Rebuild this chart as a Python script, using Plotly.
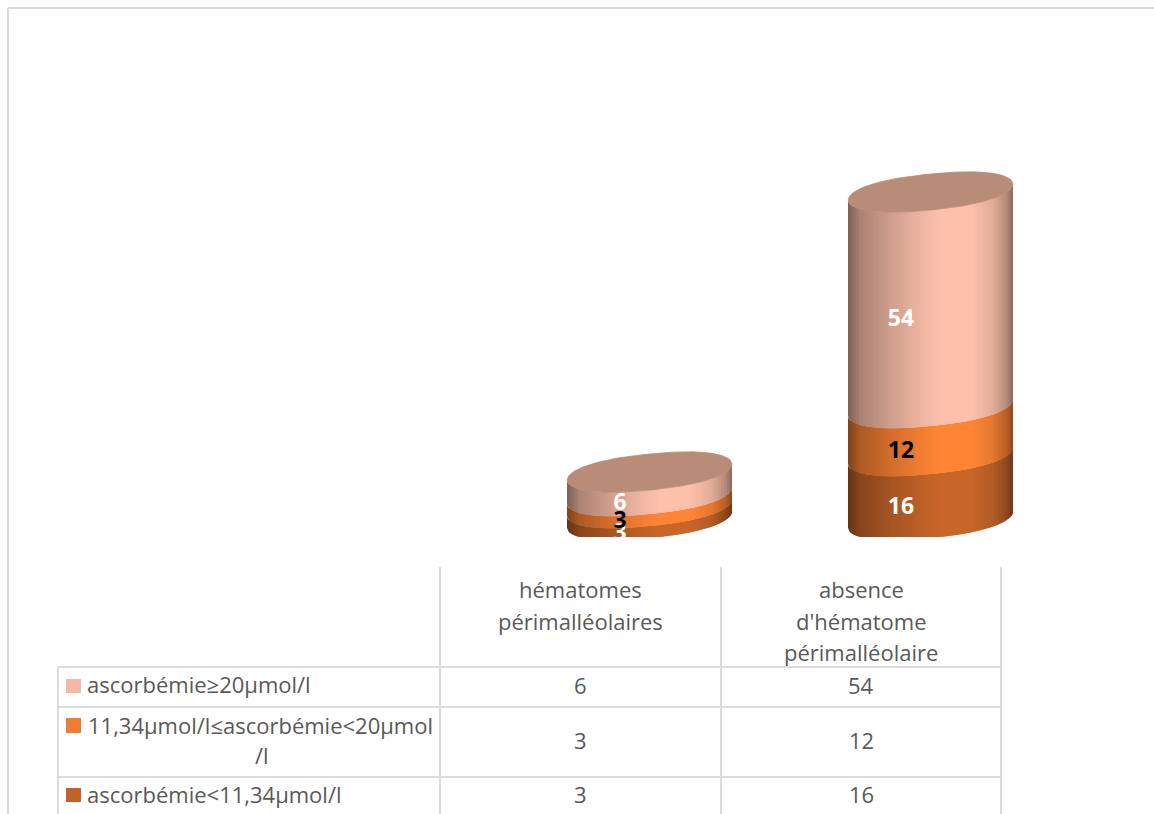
import plotly.graph_objects as go

categories_hdr = [["hématomes", "périmalléolaires"], ["absence", "d'hématome", "périmalléolaire"]]
series_names = ["ascorbémie<11,34µmol/l", "11,34µmol/l≤ascorbémie<20µmol/l", "ascorbémie≥20µmol/l"]
low_values = [3, 16]
mid_values = [3, 12]
high_values = [6, 54]

series = [low_values, mid_values, high_values]
base_rgb = [(200, 102, 42), (255, 133, 53), (252, 192, 171)]
label_colors = ["white", "black", "white"]
key_colors = ["#C0622A", "#ED7D31", "#F4B8A6"]
cap_color = "#B98C78"
grid = "#DCDCDC"
txt = "#595959"
FONT = "Open Sans"

# Plot-area placement (pixels) and axis scale
L, R, T, B = 509, 1071, 120, 560
W, H = 1154, 814
XMIN, XMAX, YMIN, YMAX = -0.5, 1.5, -10, 100
sx = (R - L) / (XMAX - XMIN)
sy = (B - T) / (YMAX - YMIN)
RX = 82.5 / sx        # half-width of cylinder, data units
RY = 18 / sy          # ellipse half-height
TILT = 8 / sy         # left side lower, right side higher
FLOOR = -17 / sy      # lowest visible edge of the base
N = 60


def shade(u):
    pts = [(-1, .50), (-.85, .68), (-.5, .82), (-.1, .95), (.1, 1.0), (.5, 1.0),
           (.75, .90), (.92, .72), (1, .55)]
    for (a, va), (b, vb) in zip(pts, pts[1:]):
        if a <= u <= b:
            return va + (vb - va) * (u - a) / (b - a)
    return 1


def bulge(u):
    return RY * max(0.0, 1 - abs(u) ** 2.4) ** .5


def front(u):
    return TILT * u - bulge(u)


def back(u):
    return TILT * u + bulge(u)


def ucurve(k):
    return -1 + 2 * k / N


fig = go.Figure()

for i in range(2):
    bottom = 0
    for s, vals in enumerate(series):
        top = bottom + vals[i]
        for k in range(N):
            # each strip runs on under the next one, so that no seam shows between them
            u0 = ucurve(k)
            u1 = ucurve(min(k + 2, N))
            us = [u0 + (u1 - u0) * j / 6 for j in range(7)]
            xs = [i + RX * u for u in us] + [i + RX * u for u in reversed(us)]
            ys = [max(bottom + front(u), FLOOR) for u in us] + [top + front(u) for u in reversed(us)]
            m = shade((ucurve(k) + ucurve(k + 1)) / 2)
            r, g, b = (int(c * m) for c in base_rgb[s])
            col = f"rgb({r},{g},{b})"
            fig.add_trace(go.Scatter(x=xs, y=ys, mode="lines", fill="toself", fillcolor=col,
                                     line=dict(width=0), hoverinfo="skip", showlegend=False))
        bottom = top
    # top cap
    pts = [k / 90 * 2 - 1 for k in range(91)]
    cx = [i + RX * u for u in pts] + [i + RX * u for u in reversed(pts)]
    cy = [bottom + front(u) for u in pts] + [bottom + back(u) for u in reversed(pts)]
    fig.add_trace(go.Scatter(x=cx, y=cy, mode="lines", fill="toself", fillcolor=cap_color,
                             line=dict(color=cap_color, width=0.8), hoverinfo="skip", showlegend=False))

# Data labels
for i in range(2):
    bottom = 0
    for s, vals in enumerate(series):
        fig.add_trace(go.Scatter(x=[i - 29.5 / sx], y=[bottom + vals[i] / 2 - 20 / sy], mode="text",
                                 text=[str(vals[i])], textposition="middle center",
                                 textfont=dict(family=FONT, size=23, color=label_colors[s], weight="bold"),
                                 hoverinfo="skip", showlegend=False))
        bottom += vals[i]


def px(x):
    return (x - L) / (R - L)


def py(y):
    return (B - y) / (B - T)


shapes = []


def line(x0, y0, x1, y1, w=2):
    shapes.append(dict(type="line", xref="paper", yref="paper", x0=px(x0), y0=py(y0), x1=px(x1), y1=py(y1),
                       line=dict(color=grid, width=w)))


# outer frame
line(8, 8, 1154, 8)
line(8, 8, 8, 814)
# table grid
for x in (440, 721, 1001):
    line(x, 567, x, 814)
line(58, 667, 58, 814)
for y in (667, 707, 777):
    line(58, y, 1001, y)

# legend keys
for s, (y0, y1) in zip((2, 1, 0), ((679, 693), (718, 733), (788, 802))):
    shapes.append(dict(type="rect", xref="paper", yref="paper", x0=px(66), x1=px(81), y0=py(y0), y1=py(y1),
                       fillcolor=key_colors[s], line=dict(width=0)))

ann = []


def text(x, y, t, anchor="center"):
    ann.append(dict(xref="paper", yref="paper", x=px(x), y=py(y), text=t, showarrow=False, xanchor=anchor,
                    yanchor="middle", font=dict(family=FONT, size=22, color=txt)))


col_x = [580, 861]
for cx_, lines in zip(col_x, categories_hdr):
    for y, t in zip((590, 622, 653), lines):
        text(cx_, y - 1, t)

text(85, 684, series_names[2], "left")
text(86, 725, series_names[1][:-2], "left")
text(262, 755, series_names[1][-2:])
text(85, 794, series_names[0], "left")
for cx_, i in zip(col_x, range(2)):
    text(cx_, 685, str(high_values[i]))
    text(cx_, 740, str(mid_values[i]))
    text(cx_, 794, str(low_values[i]))

fig.update_layout(
    width=W, height=H, autosize=False,
    margin=dict(l=L, r=W - R, t=T, b=H - B),
    plot_bgcolor="white", paper_bgcolor="white",
    xaxis=dict(range=[XMIN, XMAX], visible=False, fixedrange=True),
    yaxis=dict(range=[YMIN, YMAX], visible=False, fixedrange=True),
    shapes=shapes, annotations=ann, showlegend=False,
)

fig.write_html("out.html", config={"displayModeBar": False},
               post_script="document.body.style.margin='0';document.body.style.overflow='hidden';")
